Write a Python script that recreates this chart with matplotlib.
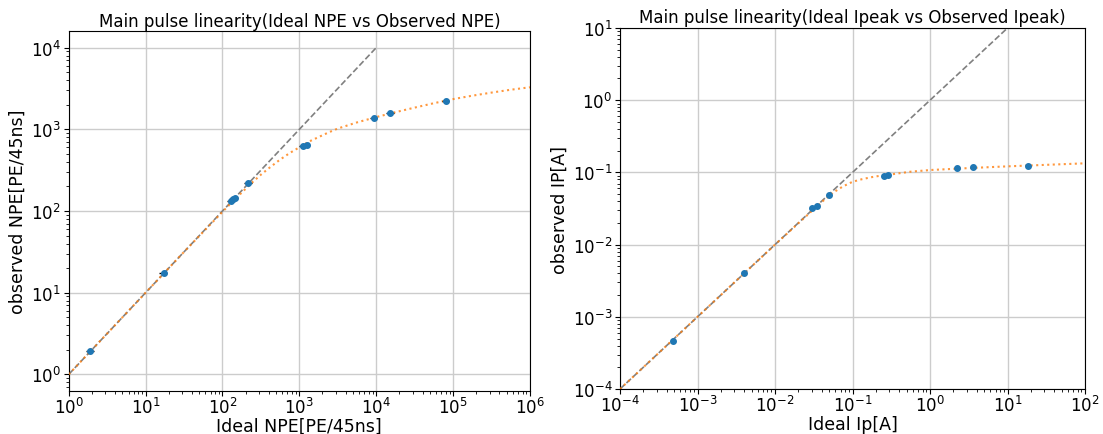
import matplotlib
matplotlib.use("Agg")
import matplotlib.pyplot as plt
import numpy as np

# ---- Left panel: NPE data ----
npe_ideal = [1.92, 17.1, 130, 137, 144, 215, 1127, 1248, 9300, 15300, 79700]
npe_obs = [1.93, 17.2, 134, 140, 146, 218, 630, 635, 1375, 1597, 2240]
npe_xerr = [0.22, 2.0, 15, 16, 17, 25, 130, 140, 1000, 1700, 9000]
npe_yerr = [0.1, 0.5, 3, 3, 3, 5, 10, 10, 20, 25, 35]

# orange fit curve samples (log10 x, log10 y)
npe_fit_logx = [0, 1, 1.5, 2, 2.125, 2.25, 2.375, 2.5, 2.625, 2.75, 2.875, 3, 3.125, 3.25,
                3.375, 3.5, 3.75, 4, 4.25, 4.5, 4.75, 5, 5.25, 5.5, 5.75, 6]
npe_fit_logy = [0, 1, 1.5, 1.99, 2.11, 2.225, 2.34, 2.445, 2.54, 2.63, 2.71, 2.78, 2.85, 2.905,
                2.96, 3.01, 3.085, 3.15, 3.21, 3.266, 3.32, 3.37, 3.412, 3.45, 3.485, 3.515]

# gray ideal line
npe_line = [1, 1e4]

# ---- Right panel: Ipeak data ----
ip_ideal = [4.77e-4, 3.96e-3, 0.0301, 0.0346, 0.0498, 0.255, 0.286, 2.2, 3.61, 18.2]
ip_obs = [4.62e-4, 4.0e-3, 0.0324, 0.0346, 0.0486, 0.090, 0.093, 0.114, 0.118, 0.124]

ip_fit_logx = [-4, -3, -2, -1.75, -1.5, -1.375, -1.25, -1.125, -1.0, -0.875, -0.75, -0.625,
               -0.5, -0.25, 0, 0.5, 1, 1.5, 2]
ip_fit_logy = [-4, -3, -2.0, -1.755, -1.51, -1.39, -1.28, -1.195, -1.13, -1.093, -1.065, -1.043,
               -1.027, -0.99, -0.967, -0.94, -0.916, -0.895, -0.874]

ip_line = [1e-4, 10]

fig = plt.figure(figsize=(11.03, 4.35), dpi=100)
ax1 = fig.add_axes([0.0623, 0.0995, 0.4182, 0.8262])
ax2 = fig.add_axes([0.5621, 0.1034, 0.4216, 0.8299])

tick_fs = 12
label_fs = 12.5
title_fs = 12

for ax in (ax1, ax2):
    ax.set_xscale('log')
    ax.set_yscale('log')

# Left
ax1.plot(npe_line, npe_line, '--', color='gray', lw=1.2, zorder=2)
ax1.plot(10 ** np.array(npe_fit_logx), 10 ** np.array(npe_fit_logy), ':', color='#ff7f0e',
         lw=1.5, alpha=0.8, zorder=3)
ax1.errorbar(npe_ideal, npe_obs, xerr=npe_xerr, yerr=npe_yerr, fmt='o', color='#1f77b4',
             ecolor='black', elinewidth=1, markersize=4, zorder=4)
ax1.set_xlim(1, 1e6)
ax1.set_ylim(10 ** -0.2, 10 ** 4.2)
ax1.set_title('Main pulse linearity(Ideal NPE vs Observed NPE)', fontsize=title_fs, pad=4)
ax1.set_xlabel('Ideal NPE[PE/45ns]', fontsize=label_fs, labelpad=0)
ax1.set_ylabel('observed NPE[PE/45ns]', fontsize=label_fs, labelpad=3)

# Right
ax2.plot(ip_line, ip_line, '--', color='gray', lw=1.2, zorder=2)
ax2.plot(10 ** np.array(ip_fit_logx), 10 ** np.array(ip_fit_logy), ':', color='#ff7f0e',
         lw=1.5, alpha=0.8, zorder=3)
ax2.plot(ip_ideal, ip_obs, 'o', color='#1f77b4', markersize=4, zorder=4)
ax2.set_xlim(1e-4, 1e2)
ax2.set_ylim(1e-4, 10)
ax2.set_title('Main pulse linearity(Ideal Ipeak vs Observed Ipeak)', fontsize=title_fs, pad=4)
ax2.set_xlabel('Ideal Ip[A]', fontsize=label_fs, labelpad=0)
ax2.set_ylabel('observed IP[A]', fontsize=label_fs, labelpad=3)

for ax in (ax1, ax2):
    ax.grid(True, which='major', color='#cccccc', lw=1)
    ax.tick_params(labelsize=tick_fs)
    ax.tick_params(axis='x', pad=1)
    ax.tick_params(axis='y', pad=2)

fig.savefig('out.png', dpi=100)
